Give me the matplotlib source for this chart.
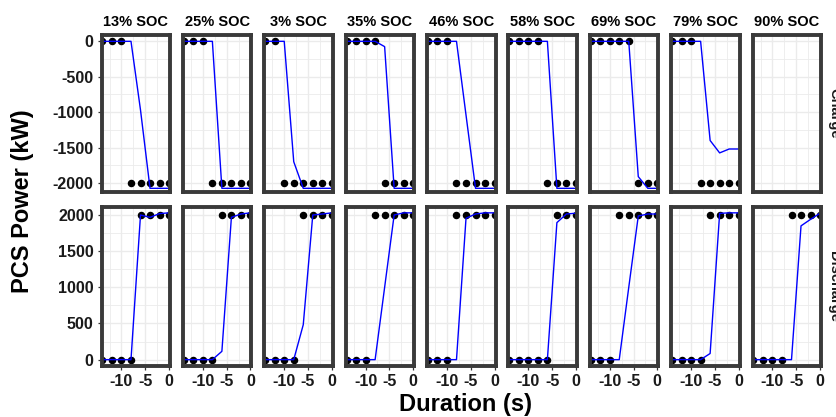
import matplotlib
matplotlib.use('Agg')
from matplotlib import pyplot as plt

plt.rcParams['font.family'] = ['Liberation Sans', 'DejaVu Sans']
plt.rcParams['font.weight'] = 'bold'
plt.rcParams['axes.unicode_minus'] = False

# data
soc_labels = ['13% SOC', '25% SOC', '3% SOC', '35% SOC', '46% SOC',
              '58% SOC', '69% SOC', '79% SOC', '90% SOC']
duration = [-14, -12, -10, -8, -6, -4, -2, 0]

# number of leading samples with a 0 kW setpoint (rest at full power)
charge_zero_count = [3, 3, 2, 4, 3, 4, 5, 3, None]
discharge_zero_count = [4, 4, 4, 3, 3, 5, 3, 4, 4]
charge_setpoint = -2000
discharge_setpoint = 2000

charge_power = [
    [0, 0, 0, 0, -970, -2075, -2075, -2075],
    [0, 0, 0, 0, -2075, -2075, -2075, -2075],
    [0, 0, 0, -1700, -2075, -2075, -2075, -2075],
    [0, 0, 0, 0, -75, -2075, -2075, -2075],
    [0, 0, 0, 0, -1040, -2075, -2075, -2075],
    [0, 0, 0, 0, 0, -2075, -2075, -2075],
    [0, 0, 0, 0, 0, -1910, -2075, -2075],
    [0, 0, 0, 0, -1400, -1575, -1520, -1520],
    None,
]
discharge_power = [
    [0, 0, 0, 0, 2000, 1968, 2020, 2030],
    [0, 0, 0, 0, 115, 1968, 2014, 2030],
    [0, 0, 0, 0, 483, 2000, 2014, 2030],
    [0, 0, 0, 0, 1000, 2000, 2030, 2030],
    [0, 0, 0, 0, 1955, 2014, 2030, 2030],
    [0, 0, 0, 0, 0, 1895, 2014, 2025],
    [0, 0, 0, 0, 1000, 1986, 2014, 2014],
    [0, 0, 0, 0, 85, 2023, 2030, 2030],
    [0, 0, 0, 0, 0, 1850, 1940, 2025],
]

row_names = ['Charge', 'Discharge']
x_ticks = [-10, -5, 0]
charge_ticks = [0, -500, -1000, -1500, -2000]
discharge_ticks = [0, 500, 1000, 1500, 2000]

W, H = 836, 417
fig = plt.figure(figsize=(W / 100, H / 100), dpi=100)

border = '#3a3a3a'
grid_c = '#ebebeb'


def px_axes(x0, y0, x1, y1):
    return fig.add_axes([x0 / W, 1 - y1 / H, (x1 - x0) / W, (y1 - y0) / H])


def style_panel(ax, ylim, yticks, show_x, show_y):
    ax.set_xlim(-14.2, 0.2)
    ax.set_ylim(*ylim)
    ax.set_xticks(x_ticks)
    ax.set_xticks([-12.5, -7.5, -2.5], minor=True)
    ax.set_yticks(yticks)
    minor = [(yticks[i] + yticks[i + 1]) / 2 for i in range(len(yticks) - 1)]
    ax.set_yticks(minor, minor=True)
    ax.grid(True, which='major', color=grid_c, lw=1.0, zorder=0)
    ax.grid(True, which='minor', color=grid_c, lw=0.6, zorder=0)
    ax.set_axisbelow(True)
    for s in ax.spines.values():
        s.set_color(border)
        s.set_linewidth(2.8)
        s.set_zorder(5)
    ax.tick_params(which='major', length=3.2, width=0.9, color='#333333',
                   labelsize=11.5, pad=2.5, labelcolor='#1a1a1a')
    ax.tick_params(which='minor', length=0)
    if show_x:
        ax.set_xticklabels([str(t) for t in x_ticks], fontweight='bold')
    else:
        ax.tick_params(axis='x', which='major', length=0, labelbottom=False)
    if show_y:
        ax.set_yticklabels([str(t) for t in yticks], fontweight='bold')
    else:
        ax.tick_params(axis='y', which='major', length=0, labelleft=False)


pitch = 81.375
rows = [(35.3, 192.0), (206.7, 366.3)]

for i, label in enumerate(soc_labels):
    right = 170.0 + i * pitch
    left = right - 68.5

    # charge row
    ax = px_axes(left, rows[0][0], right, rows[0][1])
    style_panel(ax, (-2127, 85), charge_ticks, False, i == 0)
    if charge_power[i] is not None:
        k = charge_zero_count[i]
        sp = [0] * k + [charge_setpoint] * (len(duration) - k)
        ax.plot(duration, sp, 'o', color='black', ms=4.4, zorder=3)
        ax.plot(duration, charge_power[i], color='#0000ff', lw=1.0, zorder=4)
    ax.set_title(label, fontsize=10.5, fontweight='bold', pad=7)

    # discharge row
    ax = px_axes(left, rows[1][0], right, rows[1][1])
    style_panel(ax, (-92, 2115), discharge_ticks, True, i == 0)
    k = discharge_zero_count[i]
    sp = [0] * k + [discharge_setpoint] * (len(duration) - k)
    ax.plot(duration, sp, 'o', color='black', ms=4.4, zorder=3)
    ax.plot(duration, discharge_power[i], color='#0000ff', lw=1.0, zorder=4)

# row strips on the right (cut by the figure edge as in the original)
for (y0, y1), name in zip(rows, row_names):
    fig.text(827 / W, 1 - (y0 + y1) / 2 / H, name, rotation=-90,
             ha='left', va='center', fontsize=10.5, fontweight='bold',
             color='#1a1a1a')

fig.text(465 / W, 1 - 405 / H, 'Duration (s)', ha='center', va='center',
         fontsize=17, fontweight='bold')
fig.text(23 / W, 1 - 201 / H, 'PCS Power (kW)', ha='center', va='center',
         rotation=90, fontsize=17, fontweight='bold')

fig.savefig('out.png', dpi=100)
